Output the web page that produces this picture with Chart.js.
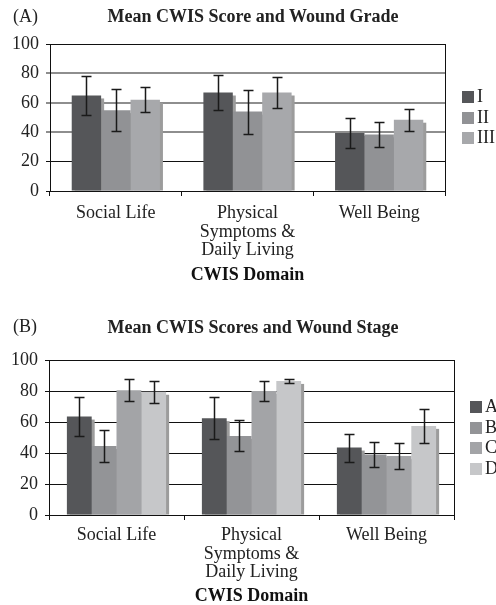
<!DOCTYPE html>
<html>
<head>
<meta charset="utf-8">
<script src="https://cdn.jsdelivr.net/npm/chart.js@4.4.0/dist/chart.umd.min.js"></script>
<style>
  body { margin: 0; background: #fff; width: 496px; height: 605px; overflow: hidden; position: relative;
         font-family: "Liberation Serif", "Times New Roman", serif; color: #222; }
  .panel { position: absolute; left: 0; width: 496px; }
  .panel canvas { position: absolute; left: 0; top: 0; }
  .tag { position: absolute; left: 13px; font-size: 18px; line-height: 20px; }
  .ttl { position: absolute; left: 0; width: 506px; text-align: center; font-weight: bold; font-size: 18px; line-height: 20px; }
  .lg { position: absolute; font-size: 18px; white-space: nowrap; }
  .lg div { height: 20.5px; line-height: 20.5px; }
  .lg span { display: inline-block; width: 12px; height: 12px; margin-right: 3px; vertical-align: -1px; }
</style>
</head>
<body>
<div class="panel" id="pa" style="top:0;height:300px">
  <canvas id="chartA" width="496" height="300"></canvas>
  <div class="tag" style="top:6px">(A)</div>
  <div class="ttl" style="top:6px">Mean CWIS Score and Wound Grade</div>
  <div class="lg" id="legendA" style="left:462px;top:86px"></div>
</div>
<div class="panel" id="pb" style="top:300px;height:305px">
  <canvas id="chartB" width="496" height="305"></canvas>
  <div class="tag" style="top:16px">(B)</div>
  <div class="ttl" style="top:17px">Mean CWIS Scores and Wound Stage</div>
  <div class="lg" id="legendB" style="left:470px;top:96px"></div>
</div>
<script>
// domeinen (x-as)
const categories = ["Social Life", ["Physical", "Symptoms &", "Daily Living"], "Well Being"];
const yTicks = [0, 20, 40, 60, 80, 100];

// (A) wond graad
const gradeNames = ["I", "II", "III"];
const gradeI = [65, 67, 39.5];
const gradeII = [55, 54, 38.5];
const gradeIII = [62, 67, 48.5];
const gradeIErr = [13, 12, 10];
const gradeIIErr = [14.5, 15, 8.5];
const gradeIIIErr = [8.5, 10.5, 7.5];
const gradeColors = ["#555659", "#919295", "#a7a8ab"];

// (B) wond stadium
const stageNames = ["A", "B", "C", "D"];
const stageA = [63.5, 62.5, 43.5];
const stageB = [44.5, 51, 39];
const stageC = [80.5, 80, 38];
const stageD = [79.5, 86.5, 57.5];
const stageAErr = [12.5, 13.5, 9];
const stageBErr = [10.5, 10, 8];
const stageCErr = [7, 6.5, 8.5];
const stageDErr = [7, 1.2, 11];
const stageColors = ["#555659", "#939497", "#a3a4a7", "#c6c7c9"];

const FONT = '"Liberation Serif", "Times New Roman", serif';

// schaduw achter de balken + foutbalken + rechter rand
const barExtras = {
    id: "barExtras",
    beforeDatasetsDraw(chart) {
        const ctx = chart.ctx;
        ctx.save();
        ctx.fillStyle = "#9c9c9c";
        chart.data.datasets.forEach((ds, i) => {
            chart.getDatasetMeta(i).data.forEach((bar) => {
                const w = bar.width;
                ctx.fillRect(bar.x - w / 2 + 3, bar.y + 3, w, bar.base - bar.y - 3);
            });
        });
        ctx.restore();
    },
    afterDatasetsDraw(chart) {
        const ctx = chart.ctx;
        const y = chart.scales.y;
        ctx.save();
        ctx.strokeStyle = "#1a1a1a";
        ctx.lineWidth = 1.5;
        chart.data.datasets.forEach((ds, i) => {
            chart.getDatasetMeta(i).data.forEach((bar, j) => {
                const v = ds.data[j], e = ds.err[j];
                const top = Math.round(y.getPixelForValue(v + e)) + 0.5;
                const bot = Math.round(y.getPixelForValue(v - e)) + 0.5;
                const x = Math.round(bar.x) + 0.5;
                ctx.beginPath();
                ctx.moveTo(x, top); ctx.lineTo(x, bot);
                ctx.moveTo(x - 5, top); ctx.lineTo(x + 5, top);
                ctx.moveTo(x - 5, bot); ctx.lineTo(x + 5, bot);
                ctx.stroke();
            });
        });
        const a = chart.chartArea;
        ctx.strokeStyle = "#111";
        ctx.lineWidth = 1;
        ctx.beginPath();
        ctx.moveTo(Math.round(a.right) + 0.5, a.top);
        ctx.lineTo(Math.round(a.right) + 0.5, a.bottom);
        ctx.stroke();
        ctx.restore();
    },
};

function makeChart(id, names, values, errs, colors, cfg) {
    const ctx = document.getElementById(id).getContext("2d");
    return new Chart(ctx, {
        type: "bar",
        data: {
            labels: categories,
            datasets: names.map((n, i) => ({
                label: n,
                data: values[i],
                err: errs[i],
                backgroundColor: colors[i],
                borderWidth: 0,
                categoryPercentage: cfg.catPct,
                barPercentage: 1.0,
            })),
        },
        options: {
            responsive: false,
            animation: false,
            layout: { padding: { top: cfg.top, right: cfg.right, left: 0, bottom: 0 } },
            plugins: {
                legend: { display: false },
                tooltip: { enabled: false },
            },
            scales: {
                x: {
                    afterFit: (s) => { s.height = cfg.xHeight; },
                    grid: { drawOnChartArea: false, drawTicks: true, tickLength: 5, color: "#111", offset: true },
                    border: { color: "#111", width: 1 },
                    ticks: {
                        color: "#222",
                        padding: cfg.xPad,
                        font: { family: FONT, size: 18, lineHeight: 1.03 },
                        maxRotation: 0,
                        autoSkip: false,
                    },
                    title: {
                        display: true,
                        text: "CWIS Domain",
                        color: "#111",
                        font: { family: FONT, size: 18, weight: "bold", lineHeight: 1 },
                        padding: { top: 0, bottom: cfg.titlePad },
                    },
                },
                y: {
                    min: 0,
                    max: 100,
                    afterFit: (s) => { s.width = cfg.left; },
                    afterBuildTicks: (s) => { s.ticks = yTicks.map((v) => ({ value: v })); },
                    grid: {
                        color: cfg.gridColor,
                        lineWidth: cfg.gridWidth,
                        tickLength: 4,
                    },
                    border: { color: "#111", width: 1 },
                    ticks: {
                        color: "#222",
                        padding: cfg.yPad,
                        font: { family: FONT, size: 18 },
                    },
                },
            },
        },
        plugins: [barExtras],
    });
}

function fillLegend(id, names, colors) {
    const el = document.getElementById(id);
    names.forEach((n, i) => {
        const row = document.createElement("div");
        row.innerHTML = '<span style="background:' + colors[i] + '"></span>' + n;
        el.appendChild(row);
    });
}

const softLine = (c) => [40, 60, 80].includes(c.tick.value);

makeChart("chartA", gradeNames, [gradeI, gradeII, gradeIII], [gradeIErr, gradeIIErr, gradeIIIErr], gradeColors, {
    catPct: 0.67, top: 44, right: 51, left: 50, xHeight: 109, xPad: 8, titlePad: 16, yPad: 7,
    gridColor: (c) => (softLine(c) ? "#8e8e8e" : "#111"),
    gridWidth: (c) => (softLine(c) ? 2 : 1),
});
makeChart("chartB", stageNames, [stageA, stageB, stageC, stageD], [stageAErr, stageBErr, stageCErr, stageDErr], stageColors, {
    catPct: 0.735, top: 60, right: 42, left: 49, xHeight: 90, xPad: 6, titlePad: 0, yPad: 7,
    gridColor: "#111",
    gridWidth: 1,
});
fillLegend("legendA", gradeNames, gradeColors);
fillLegend("legendB", stageNames, stageColors);
</script>
</body>
</html>
